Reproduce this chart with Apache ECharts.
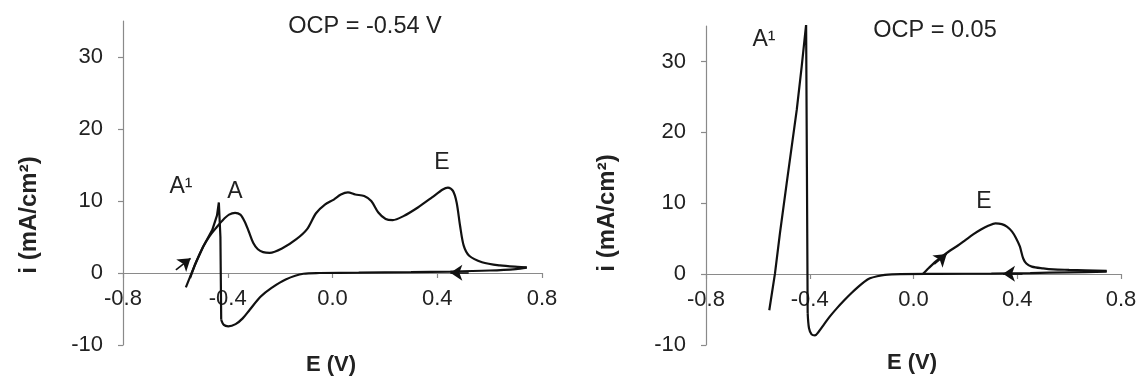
<!DOCTYPE html>
<html><head><meta charset="utf-8">
<script src="https://cdn.jsdelivr.net/npm/echarts@6/dist/echarts.min.js"></script>
<style>html,body{margin:0;padding:0;background:#fff}#c{width:1143px;height:381px}</style>
</head><body><div id="c"></div>
<script>
// ---- data (E in V, i in mA/cm²) ----
const xTicks = [-0.8, -0.4, 0.0, 0.4, 0.8];
const yTicks = [-10, 0, 10, 20, 30];

// Left panel: OCP = -0.54 V
const leftForward = [[-0.544,-0.7],[-0.52,1.6],[-0.494,3.65],[-0.47,5.1],[-0.446,6.2],[-0.42,7.3],[-0.395,8.1],[-0.372,8.35],[-0.352,8.1],[-0.336,7.2],[-0.32,5.8],[-0.303,4.2],[-0.285,3.3],[-0.265,2.9],[-0.24,2.8],[-0.193,3.4],[-0.138,4.7],[-0.097,6.1],[-0.063,8.3],[-0.029,9.5],[0.005,10.2],[0.032,10.9],[0.059,11.2],[0.087,10.9],[0.121,10.7],[0.148,10.0],[0.175,8.4],[0.203,7.5],[0.23,7.35],[0.271,7.9],[0.326,9.1],[0.38,10.5],[0.421,11.6],[0.441,11.85],[0.46,11.4],[0.474,9.8],[0.487,6.6],[0.501,3.8],[0.522,2.4],[0.571,1.5],[0.639,1.05],[0.707,0.85],[0.742,0.8]];
const leftReturn = [[0.742,0.75],[0.70,0.55],[0.6,0.35],[0.45,0.2],[0.3,0.12],[0.1,0.05],[-0.05,0.0],[-0.111,-0.1],[-0.179,-0.9],[-0.234,-2.1],[-0.275,-3.3],[-0.316,-5.1],[-0.343,-6.3],[-0.37,-7.1],[-0.398,-7.4],[-0.415,-7.2],[-0.425,-6.5]];
const leftSpike = [[-0.425,-6.5],[-0.428,5.0],[-0.434,9.8],[-0.441,8.0],[-0.459,6.0],[-0.494,3.65],[-0.527,1.0],[-0.560,-2.0]];
const leftArrowFwd = [[-0.598,0.42],[-0.542,2.04]];
const leftArrowRev = [[0.52,0.05],[0.45,0.05]];

// Right panel: OCP = 0.05
const rightForward = [[0.036,0.0],[0.06,0.9],[0.086,1.8],[0.114,2.6],[0.14,3.3],[0.17,4.0],[0.2,4.8],[0.23,5.6],[0.26,6.3],[0.29,6.85],[0.316,7.15],[0.34,7.05],[0.36,6.7],[0.38,6.0],[0.395,5.1],[0.41,3.9],[0.423,2.2],[0.435,1.5],[0.456,1.05],[0.5,0.8],[0.539,0.66],[0.6,0.6],[0.745,0.47]];
const rightReturn = [[0.745,0.35],[0.6,0.25],[0.45,0.15],[0.3,0.08],[0.1,0.03],[-0.05,0.0],[-0.11,-0.1],[-0.14,-0.3],[-0.168,-0.6],[-0.19,-1.1],[-0.21,-1.7],[-0.24,-2.7],[-0.267,-3.7],[-0.295,-4.8],[-0.323,-6.0],[-0.345,-7.1],[-0.365,-8.1],[-0.38,-8.65],[-0.393,-8.5],[-0.403,-7.6],[-0.408,-5.5]];
const rightSpike = [[-0.408,-5.5],[-0.411,15],[-0.414,35.2],[-0.431,29.3],[-0.45,23.2],[-0.489,12.8],[-0.515,5.75],[-0.534,0.1],[-0.556,-5.1]];
const rightArrowFwd = [[0.08,1.4],[0.128,2.85]];
const rightArrowRev = [[0.42,0.05],[0.345,0.05]];

// ---- chart ----
const FONT = '"Liberation Sans", Arial, sans-serif';
const TXT = '#222';
const AX = '#8a8a8a';

function xAxis(gi, off){
  return {type:'value', gridIndex:gi, min:-0.8, max:0.8, interval:0.4, position:'bottom', offset:off,
    axisLine:{onZero:false, lineStyle:{color:AX, width:1.2}},
    axisTick:{show:true, length:5, lineStyle:{color:AX, width:1.2}, customValues:xTicks},
    axisLabel:{margin:15, fontSize:22, color:TXT, fontFamily:FONT, customValues:xTicks,
      formatter:v=>v.toFixed(1)},
    splitLine:{show:false}};
}
function yAxis(gi){
  return {type:'value', gridIndex:gi, min:-10, max:35, interval:10,
    axisLine:{show:true, onZero:false, lineStyle:{color:AX, width:1.2}},
    axisTick:{show:true, length:5, lineStyle:{color:AX, width:1.2}, customValues:yTicks},
    axisLabel:{margin:20, fontSize:22, color:TXT, fontFamily:FONT, customValues:yTicks},
    splitLine:{show:false}};
}
function curve(gi, data, smooth){
  return {type:'line', xAxisIndex:gi, yAxisIndex:gi, data:data, showSymbol:false, symbol:'none',
    smooth:smooth, lineStyle:{color:'#111', width:2.2}, z:3};
}
function arrow(gi, pts){
  return {type:'line', xAxisIndex:gi, yAxisIndex:gi, data:[], symbol:'none',
    markLine:{silent:true, symbol:['none','arrow'], symbolSize:12, label:{show:false},
      emphasis:{disabled:true},
      lineStyle:{color:'#111', width:1.6, type:'solid'},
      itemStyle:{color:'#111'},
      data:[[{coord:pts[0]},{coord:pts[1]}]]}};
}
function txt(x,y,s,size,bold,rot){
  return {type:'text', x:x, y:y, rotation:rot||0,
    style:{text:s, fill:TXT, font:(bold?'bold ':'')+size+'px '+FONT, textAlign:'center', textVerticalAlign:'middle'}};
}

const chart = echarts.init(document.getElementById('c'), null, {renderer:'canvas'});
chart.setOption({
  animation:false,
  backgroundColor:'#fff',
  grid:[{left:123, right:601, top:21, bottom:36},{left:706, right:22, top:26, bottom:36}],
  xAxis:[xAxis(0,-72), xAxis(1,-71)],
  yAxis:[yAxis(0), yAxis(1)],
  series:[
    curve(0,leftForward,0.3), curve(0,leftReturn,0.3), curve(0,leftSpike,false),
    arrow(0,leftArrowFwd), arrow(0,leftArrowRev),
    curve(1,rightForward,0.3), curve(1,rightReturn,0.3), curve(1,rightSpike,false),
    arrow(1,rightArrowFwd), arrow(1,rightArrowRev)
  ],
  graphic:[
    txt(365,27,'OCP = -0.54 V',23.5,false),
    txt(935,31,'OCP = 0.05',23.5,false),
    txt(331,365,'E (V)',22,true),
    txt(912,363,'E (V)',22,true),
    txt(29,215,'i (mA/cm²)',24,true,Math.PI/2),
    txt(607,213,'i (mA/cm²)',24,true,Math.PI/2),
    txt(181,187,'A¹',23,false),
    txt(235,192,'A',23,false),
    txt(442,163,'E',23,false),
    txt(764,40,'A¹',23,false),
    txt(984,202,'E',23,false)
  ]
});
</script></body></html>
